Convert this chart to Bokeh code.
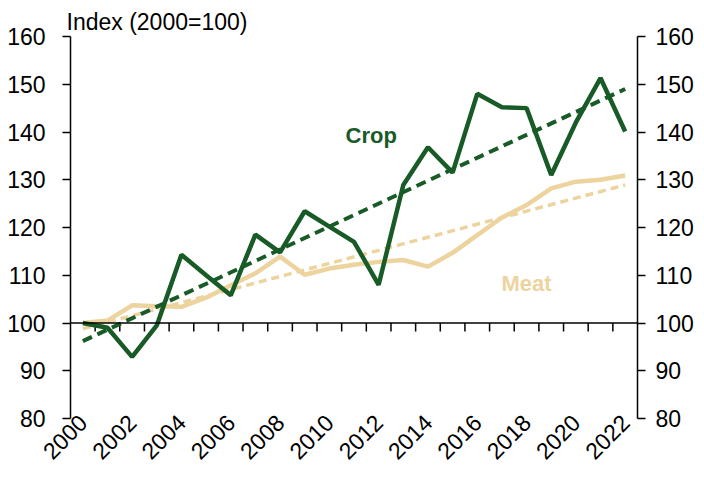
import math
from bokeh.plotting import figure
from bokeh.models import Range1d, LinearAxis, FixedTicker, Span
from bokeh.core.properties import value
from bokeh.embed import file_html
from bokeh.resources import INLINE

# ---- data ----
years = list(range(2000, 2023))
crop = [100.0, 99.0, 92.9, 99.5, 114.3, 110.0, 105.8, 118.5, 114.8, 123.4, 120.2, 117.0,
        108.0, 128.9, 136.8, 131.5, 148.0, 145.2, 145.0, 131.0, 142.0, 151.3, 140.1]
meat = [100.0, 100.5, 103.7, 103.5, 103.4, 105.3, 107.9, 110.4, 113.9, 110.1, 111.4, 112.2,
        112.8, 113.2, 111.8, 114.7, 118.4, 122.1, 124.7, 128.2, 129.6, 130.0, 130.9]
trend_years = [2000, 2022]
crop_trend = [96.2, 149.0]
meat_trend = [98.8, 128.9]
y_ticks = [80, 90, 100, 110, 120, 130, 140, 150, 160]
x_label_years = list(range(2000, 2023, 2))
series_names = ["Crop", "Meat"]

GREEN = "#185b27"
TAN = "#edd49f"
FONT = "Liberation Sans"
FS = "23px"

p = figure(width=696, height=474, output_backend="svg", toolbar_location=None,
           x_range=Range1d(years[0] - 0.5, years[-1] + 0.5),
           y_range=Range1d(y_ticks[0], y_ticks[-1]),
           min_border_left=70, min_border_right=55, min_border_top=36, min_border_bottom=56,
           title="Index (2000=100)")
p.outline_line_color = None
p.xgrid.visible = False
p.ygrid.visible = False
p.background_fill_color = "white"

p.title.text_font = FONT
p.title.text_font_size = FS
p.title.text_font_style = "normal"
p.title.text_color = "black"
p.title.align = "left"
p.title.offset = -4
p.title.standoff = 4


def style_y(ax, standoff):
    ax.axis_line_color = "black"
    ax.axis_line_width = 1.5
    ax.major_tick_line_color = "black"
    ax.major_tick_line_width = 1.5
    ax.major_tick_in = 0
    ax.major_tick_out = 8
    ax.minor_tick_line_color = None
    ax.major_label_text_font = FONT
    ax.major_label_text_font_size = FS
    ax.major_label_text_color = "black"
    ax.major_label_standoff = standoff


ya = p.yaxis[0]
ya.ticker = FixedTicker(ticks=y_ticks)
style_y(ya, 17)
ra = LinearAxis(ticker=FixedTicker(ticks=y_ticks))
style_y(ra, 10)
p.add_layout(ra, "right")

# bottom axis: labels only
xa = p.xaxis[0]
xa.ticker = FixedTicker(ticks=x_label_years)
xa.axis_line_color = None
xa.major_tick_line_color = None
xa.major_tick_out = 0
xa.major_tick_in = 0
xa.minor_tick_line_color = None
xa.major_label_orientation = math.pi / 4
xa.major_label_text_font = FONT
xa.major_label_text_font_size = FS
xa.major_label_text_color = "black"
xa.major_label_standoff = 0

# x axis line at 100 with ticks between categories
p.add_layout(Span(location=100, dimension="width", line_color="black", line_width=1.5))
bounds = [y + 0.5 for y in years[:-1]]
p.segment(x0=bounds, y0=[100] * len(bounds), x1=bounds, y1=[98.2] * len(bounds),
          line_color="black", line_width=1.5)

# series
p.line(trend_years, meat_trend, line_color=TAN, line_width=3.5, line_dash="8 5")
p.line(years, meat, line_color=TAN, line_width=4.5)
p.line(trend_years, crop_trend, line_color=GREEN, line_width=4, line_dash="10 6")
p.line(years, crop, line_color=GREEN, line_width=4.5)

p.text(x=[2011.7, 2018.0], y=[139.3, 108.3], text=series_names,
       text_color=[GREEN, TAN], text_font=value(FONT), text_font_size="22px",
       text_font_style="bold", text_align="center", text_baseline="alphabetic")

open("out.html", "w").write(file_html(p, INLINE))
